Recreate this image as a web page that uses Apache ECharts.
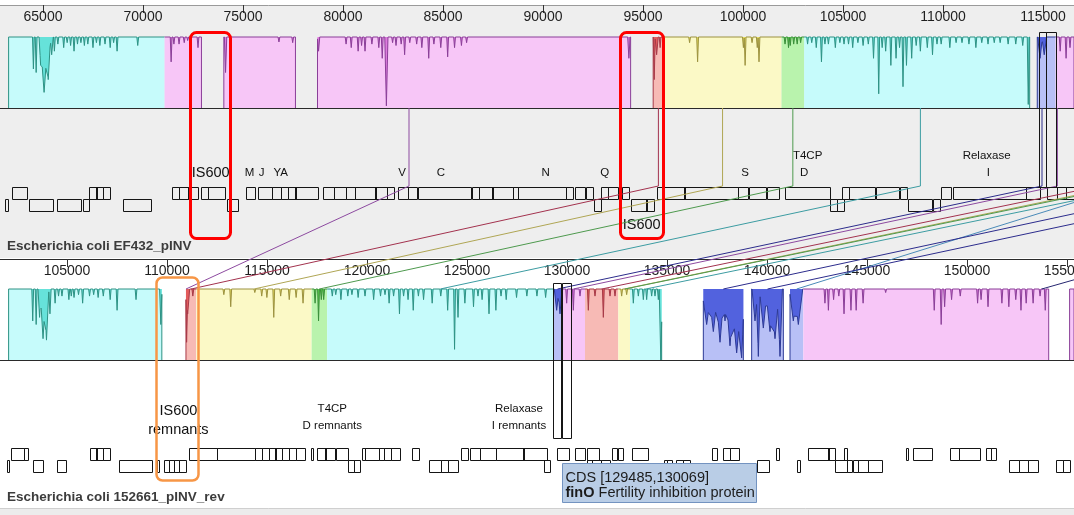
<!DOCTYPE html>
<html>
<head>
<meta charset="utf-8">
<title>pINV alignment</title>
<script src="https://cdn.jsdelivr.net/npm/echarts@6.0.0/dist/echarts.min.js"></script>
<style>
  html, body { margin: 0; padding: 0; background: #fff; }
  #main { width: 1074px; height: 515px; }
</style>
</head>
<body>
<div id="main"></div>
<script>
// ---------------- data ----------------
const topName = 'Escherichia coli EF432_pINV';
const bottomName = 'Escherichia coli 152661_pINV_rev';

// bp shown at the left / right edge of each panel
const topRange = [62850, 116550];
const bottomRange = [101650, 155350];

const topTicks = [65000, 70000, 75000, 80000, 85000, 90000, 95000, 100000, 105000, 110000, 115000];
const bottomTicks = [105000, 110000, 115000, 120000, 125000, 130000, 135000, 140000, 145000, 150000, 155000];

// similarity profile dips: [position, depth (0 top .. 1 baseline), half width]
const tCyan1 = [[64520,0.45],[64658,0.5],[64882,0.4,80],[65054,0.78,200],[65261,0.6,120],[65433,0.25,80],[65570,0.2],[65743,0.1],[66035,0.15],[66208,0.08],[66380,0.12],[66552,0.2],[66724,0.1],[66896,0.08],[67068,0.12],[67241,0.1],[67499,0.15],[67671,0.08],[67843,0.12],[68101,0.1],[68360,0.15],[68532,0.08],[68704,0.2],[69737,0.12]];
const tMag1 = [[71407,0.35],[71545,0.1],[71803,0.1],[72062,0.08],[72234,0.05],[72750,0.15]];
const tMag2 = [[74128,0.5,60],[76797,0.07],[77485,0.08]];
const tMag3 = [[78777,0.2,60],[80154,0.1],[80412,0.15],[80757,0.2],[80929,0.12],[81101,0.2],[81445,0.1],[81790,0.15],[81962,0.3],[82169,0.97,80],[82479,0.08],[82651,0.12],[82909,0.1],[83081,0.25],[83339,0.08],[83684,0.1],[83942,0.15],[84286,0.3],[84545,0.1],[84889,0.15],[85233,0.28],[85578,0.15],[85922,0.12],[86180,0.08],[94295,0.3,60]];
const tRed = [[95561,0.6,50],[95682,0.25,80],[95856,0.15]];
const tYellow = [[97330,0.08],[97730,0.35],[100020,0.15],[100106,0.4],[100453,0.08],[100714,0.15],[100800,0.35]];
const tGreen = [[102102,0.1],[102275,0.15],[102362,0.12],[102535,0.1],[102709,0.1],[102882,0.08]];
const tCyan2 = [[103229,0.1],[103437,0.08],[103663,0.15],[103923,0.35],[104097,0.1],[104270,0.1],[104617,0.15],[104843,0.08],[105051,0.1],[105276,0.1],[105485,0.15],[105745,0.08],[106005,0.12],[106265,0.1],[106526,0.3],[106786,0.8],[106959,0.15],[107133,0.2],[107393,0.4],[107653,0.3],[107827,0.15],[108000,0.7],[108174,0.4],[108434,0.3],[108660,0.12],[108868,0.2],[109215,0.15],[109475,0.25],[109700,0.1],[109909,0.1],[110342,0.15],[110655,0.08],[110950,0.08],[111297,0.1],[111644,0.15],[111939,0.08],[112251,0.1],[112563,0.08],[112858,0.08],[113257,0.1],[113639,0.1],[113986,0.12],[114263,0.95,50]];
const tBlue = [[114853,0.3,120],[115061,0.25,120]];
const tMag4 = [[115859,0.2],[116154,0.3],[116350,0.15]];

const bCyan1 = [[103286,0.45],[103458,0.5],[103630,0.4,80],[103802,0.7,150],[103974,0.72,120],[104147,0.35,60],[104405,0.2],[104577,0.1],[104749,0.1],[105094,0.15],[105214,0.1],[105352,0.12],[105576,0.08],[105782,0.2],[106127,0.1],[106333,0.08],[106557,0.12],[106815,0.1],[107160,0.15],[107504,0.3],[108451,0.15],[109691,0.5,60]];
const bRed1 = [[110980,0.75,40],[111034,0.35,100],[111292,0.1]];
const bYellow1 = [[112842,0.08],[113186,0.25],[114391,0.05],[114736,0.1],[114994,0.12],[115338,0.4],[115683,0.1],[116113,0.15],[116457,0.12],[116802,0.2]];
const bGreen = [[117404,0.2],[117577,0.45],[117715,0.15],[117835,0.15]];
const bCyan2 = [[118265,0.1],[118438,0.08],[118696,0.15],[119040,0.1],[119247,0.08],[119557,0.12],[119901,0.1],[120332,0.15],[120676,0.1],[120900,0.08],[121106,0.2],[121330,0.1],[121623,0.35],[121830,0.1],[122053,0.15],[122312,0.3],[122570,0.1],[122828,0.15],[123259,0.2],[123689,0.1],[124033,0.3],[124378,0.85],[124550,0.4],[124894,0.2],[125325,0.25],[125549,0.1],[125755,0.15],[126100,0.35],[126444,0.3],[126702,0.1],[126960,0.15],[127477,0.12],[127993,0.1],[128497,0.1],[128931,0.12]];
const bBlue0 = [[129483,0.3,120],[129650,0.35,100]];
const bMag0 = [[129983,0.2],[130317,0.3],[130650,0.1]];
const bRed2 = [[131067,0.3],[131400,0.1],[131817,0.4],[132150,0.1],[132400,0.1]];
const bYellow2 = [[132733,0.1],[132983,0.08]];
const bCyan3 = [[133317,0.2],[133567,0.1],[133817,0.15],[133983,0.15],[134233,0.1],[134400,0.1],[134567,0.15],[134690,1,80]];
const bBlue1 = [[136983,0.5,250],[137317,0.6,250],[137650,0.75,220],[137900,0.45,150],[138150,0.8,220],[138483,0.9,300],[138733,0.97,150]];
const bBlue2 = [[139400,0.45,150],[139567,0.95,90],[139817,0.55,200],[140150,0.6,220],[140400,0.7,220],[140650,0.95,120]];
const bBlue3 = [[141317,0.45,200],[141567,0.5,220]];
const bMag1 = [[142897,0.2],[143070,0.3],[143330,0.15],[143591,0.1],[143851,0.35],[144198,0.3],[144458,0.3],[144805,0.2],[145933,0.05],[148362,0.3],[148709,0.5],[148882,0.25],[149229,0.15],[149663,0.1],[150530,0.2],[150704,0.15],[151051,0.25],[151745,0.2],[152092,0.25],[152439,0.15],[152699,0.3],[152959,0.2],[153306,0.2],[153653,0.1],[153913,0.3]];
const bMag2 = [];

// collinear blocks: [colour, start, end, profile]
const topBlocks = [
  ['cyan', 63280, 71080, tCyan1], ['magenta', 71080, 72923, tMag1], ['magenta', 74042, 77623, tMag2],
  ['magenta', 78725, 94381, tMag3], ['red', 95509, 96029, tRed], ['yellow', 96029, 101928, tYellow],
  ['green', 101928, 103056, tGreen], ['cyan', 103056, 114333, tCyan2], ['blue', 114714, 115634, tBlue],
  ['magenta', 115634, 116550, tMag4]
];
const bottomBlocks = [
  ['cyan', 102080, 109742, bCyan1], ['red', 110948, 111464, bRed1], ['yellow', 111464, 117232, bYellow1],
  ['green', 117232, 118007, bGreen], ['cyan', 118007, 129317, bCyan2], ['blue', 129317, 129733, bBlue0],
  ['magenta', 129733, 130900, bMag0], ['red', 130900, 132567, bRed2], ['yellow', 132567, 133150, bYellow2],
  ['cyan', 133150, 134733, bCyan3], ['blue', 136817, 138817, bBlue1], ['blue', 139233, 140817, bBlue2],
  ['blue', 141150, 141817, bBlue3], ['magenta', 141817, 154085, bMag1], ['magenta', 155130, 155350, bMag2]
];

// genes: [start, end, strand]
const topGenes = [
  [63453,64227,1],[67292,67671,1],[67671,68015,1],[68015,68360,1],[71459,71803,1],[71803,72234,1],[72234,72750,1],
  [72923,73267,1],[73267,74128,1],[75161,75591,1],[75764,76452,1],[76452,76883,1],[76883,77227,1],[77227,77623,1],
  [77623,78777,1],[78983,79551,1],[79551,80154,1],[80154,80584,1],[80584,81618,1],[81618,82220,1],[82220,82565,1],
  [82737,83253,1],[83253,83684,1],[83770,86439,1],[86439,86783,1],[86783,87472,1],[87472,88505,1],[88505,88763,1],
  [88763,91172,1],[91172,91519,1],[91605,92126,1],[92126,92473,1],[92907,93254,1],[93254,93774,1],[93947,94295,1],
  [95682,97070,1],[97070,99759,1],[99759,100280,1],[100280,101147,1],[101199,101807,1],[102102,104357,1],
  [104964,105311,1],[105311,106612,1],[106664,107827,1],[107827,108174,1],[109909,110429,1],[110516,114159,1],
  [114159,114853,1],[115200,115720,1],[115720,116154,1],[116154,117660,1],
  [63108,63280,-1],[64314,65519,-1],[65691,66896,-1],[66982,67292,-1],[69014,70391,-1],[74214,74765,-1],
  [92560,92907,-1],[94381,95162,-1],[95162,95543,-1],[104357,104704,-1],[104704,105051,-1],[108261,109475,-1],[109475,109822,-1]
];
const bottomGenes = [
  [102201,102855,1],[102855,103062,1],[106127,106471,1],[106471,106815,1],[106815,107160,1],[111120,112497,1],
  [112497,114391,1],[114391,114736,1],[114736,115080,1],[115080,115424,1],[115424,115769,1],[115769,116113,1],
  [116113,116457,1],[116457,116888,1],[117198,117318,1],[117491,117921,1],[117921,118438,1],[118438,119040,1],
  [119729,119901,1],[119901,120590,1],[120590,120848,1],[120848,121192,1],[121192,121623,1],[122226,122570,1],
  [124722,125066,1],[125153,125669,1],[125669,126444,1],[126444,127821,1],[127821,129017,1],[129485,130069,1],
  [130404,130926,1],[131013,131620,1],[132227,132487,1],[132574,132834,1],[133268,134049,1],[137258,137518,1],
  [137779,138126,1],[138126,138559,1],[140468,140641,1],[142029,143070,1],[143070,143417,1],[143851,144024,1],
  [146974,147095,1],[147321,148275,1],[149142,149576,1],[149576,150617,1],[150964,151224,1],[151224,151484,1],
  [101994,102080,-1],[103286,103802,-1],[104491,104921,-1],[107590,109226,-1],[109484,109570,-1],[109829,110087,-1],
  [110087,110345,-1],[110345,110603,-1],[110603,110948,-1],[119040,119350,-1],[119350,119643,-1],[123087,123689,-1],
  [123689,124033,-1],[124033,124550,-1],[128844,129156,-1],[131013,131273,-1],[131273,131707,-1],[131707,132140,-1],
  [134829,135003,-1],[135003,135263,-1],[135437,135784,-1],[135784,136131,-1],[139514,140121,-1],[141509,141682,-1],
  [143417,144024,-1],[144024,144285,-1],[144285,144545,-1],[144545,145065,-1],[145065,145759,-1],[152092,152612,-1],
  [152612,153046,-1],[153046,153566,-1],[154433,154780,-1],[154780,155128,-1]
];

// gene annotations: [position, text, tier]
const topLabels = [
  [73387,'IS600','is'],[75333,'M','name'],[75935,'J','name'],[76882,'YA','name'],[82960,'V','name'],[84890,'C','name'],
  [90130,'N','name'],[93080,'Q','name'],[100105,'S','name'],[103230,'T4CP','role'],[103055,'D','name'],
  [112180,'Relaxase','role'],[112265,'I','name'],[94935,'IS600','isBelow']
];
const bottomLabels = [
  [110570,'IS600','is'],[110570,'remnants','isSub'],[118265,'T4CP','role'],[118265,'D remnants','name'],
  [127600,'Relaxase','role'],[127600,'I remnants','name']
];

// links between block centres: [top position, bottom position, colour]
const links = [
  [83300,110950,'purple'],[95770,111206,'maroon'],[98978,114348,'olive'],[102492,117620,'green'],
  [108870,123662,'teal'],[114950,129525,'navy'],[115720,130317,'purple'],[117850,131733,'maroon'],
  [118850,132858,'olive'],[119100,132900,'green'],[120100,133942,'teal'],[119200,141483,'steel'],
  [123000,137817,'navy'],[125400,140025,'navy'],[133000,153740,'ink']
];

// selected feature outlines and marked regions
const topHighlight = [[114801,115148],[115148,115634]];
const bottomHighlight = [[129317,129733],[129733,130183]];
const topNotes = [[72372,74386,'red'],[93861,95995,'red']];
const bottomNotes = [[109433,111550,'orange']];
const tipGene = { kind: 'CDS', start: 129485, end: 130069, name: 'finO', product: 'Fertility inhibition protein' };

// ---------------- style ----------------
const FONT = '"Liberation Sans", Arial, sans-serif';
const palette = {
  cyan:    { light: '#c6fbfb', mid: '#66e2da', line: '#2e9284' },
  magenta: { light: '#f7c6f7', mid: '#de7ade', line: '#8a3f98' },
  yellow:  { light: '#fbf9c6', mid: '#e8e05e', line: '#9c9240' },
  green:   { light: '#b9f3ad', mid: '#5ad04a', line: '#3b8f3b' },
  red:     { light: '#f7bab5', mid: '#e35c5c', line: '#a83a48' },
  blue:    { light: '#b8c0f6', mid: '#5262de', line: '#2d3a96' }
};
const linkColors = {
  purple: '#8d4aa0', maroon: '#a3324e', olive: '#b0a654', green: '#4e9a4e', teal: '#3c9ca2',
  navy: '#2c2c8c', steel: '#4a8ab8', ink: '#262670'
};
const noteColors = { red: '#ff0000', orange: '#f79646' };

// panel layouts in pixels from the panel's top edge
const topLay = {
  lcbTop: 32, base: 103, turn: 181, gene: 182, rowH: 12, hl: [27, 182], note: [27, 233],
  tiers: { name: [168, 11.5], role: [151, 11.5], is: [168, 14.5], isBelow: [220, 14.5] }
};
const botLay = {
  lcbTop: 30, base: 101, gene: 189, rowH: 11.5, hl: [24, 179], note: [18, 221], tip: 204,
  tiers: { is: [152, 14.5], isSub: [171, 14.5], role: [150, 11.5], name: [167, 11.5] }
};

// ---------------- series builders ----------------
function depthAt(dips, v) {
  let d = 0;
  for (const p of dips) {
    const w = p[2] || 45;
    const t = 1 - Math.abs(v - p[0]) / w;
    if (t > 0) d = Math.max(d, p[1] * t);
  }
  return d;
}

function blockSeries(id, blocks, g, lay) {
  return {
    id, type: 'custom', xAxisIndex: g, yAxisIndex: g, z: 2, silent: true,
    data: blocks.map((b, i) => [b[1], b[2], i]),
    encode: { x: [0, 1] },
    renderItem(params, api) {
      const i = api.value(2);
      const [key, s, e, dips] = blocks[i];
      const pal = palette[key];
      const yTop = api.coord([s, lay.lcbTop])[1];
      const yBase = api.coord([s, lay.base])[1];
      const px = v => api.coord([v, lay.lcbTop])[0];
      let xs = [s, e];
      dips.forEach(p => { const w = p[2] || 45; xs.push(p[0] - w, p[0], p[0] + w); });
      xs = xs.filter(v => v >= s && v <= e).sort((a, b) => a - b);
      const prof = xs.map(v => [px(v), yTop + depthAt(dips, v) * (yBase - yTop)]);
      const x0 = px(s), x1 = px(e);
      const line = prof.slice();
      if (!blocks.some(o => o !== blocks[i] && Math.abs(o[2] - s) < 80)) line.unshift([x0, yBase]);
      if (!blocks.some(o => o !== blocks[i] && Math.abs(o[1] - e) < 80)) line.push([x1, yBase]);
      return {
        type: 'group', children: [
          { type: 'rect', shape: { x: x0, y: yTop, width: x1 - x0, height: yBase - yTop }, style: { fill: pal.light } },
          { type: 'polygon', shape: { points: [[x0, yTop]].concat(prof, [[x1, yTop]]) }, style: { fill: pal.mid } },
          { type: 'polyline', shape: { points: line }, style: { fill: 'none', stroke: pal.line, lineWidth: 1 } }
        ]
      };
    }
  };
}

function trackSeries(id, range, g, lay) {
  return {
    id, type: 'custom', xAxisIndex: g, yAxisIndex: g, z: 3, silent: true,
    data: [[range[0], range[1]]],
    encode: { x: [0, 1] },
    renderItem(params, api) {
      const a = api.coord([api.value(0), lay.base]);
      const b = api.coord([api.value(1), lay.base]);
      const y = Math.round(a[1]) + 0.5;
      return { type: 'line', shape: { x1: a[0], y1: y, x2: b[0], y2: y }, style: { stroke: '#2a2a2a', lineWidth: 1.2 } };
    }
  };
}

function geneSeries(id, genes, g, lay) {
  return {
    id, type: 'custom', xAxisIndex: g, yAxisIndex: g, z: 4, silent: true,
    data: genes,
    encode: { x: [0, 1] },
    renderItem(params, api) {
      const y0 = api.value(2) > 0 ? lay.gene : lay.gene + lay.rowH;
      const p0 = api.coord([api.value(0), y0]);
      const p1 = api.coord([api.value(1), y0 + lay.rowH]);
      return {
        type: 'rect',
        shape: { x: Math.round(p0[0]) + 0.5, y: Math.round(p0[1]) + 0.5, width: Math.max(1, Math.round(p1[0] - p0[0])), height: Math.round(p1[1] - p0[1]) },
        style: { fill: 'none', stroke: '#151515', lineWidth: 1 }
      };
    }
  };
}

function labelSeries(id, labels, g, lay) {
  return {
    id, type: 'custom', xAxisIndex: g, yAxisIndex: g, z: 5, silent: true,
    data: labels.map((l, i) => [l[0], i]),
    encode: { x: 0 },
    renderItem(params, api) {
      const l = labels[api.value(1)];
      const t = lay.tiers[l[2]];
      const p = api.coord([l[0], t[0]]);
      return {
        type: 'text',
        style: { text: l[1], x: p[0], y: p[1], align: 'center', verticalAlign: 'middle', fill: '#111', fontSize: t[1], fontFamily: FONT }
      };
    }
  };
}

function boxSeries(id, boxes, g, span, z, styleOf) {
  return {
    id, type: 'custom', xAxisIndex: g, yAxisIndex: g, z, silent: true,
    data: boxes.map((b, i) => [b[0], b[1], i]),
    encode: { x: [0, 1] },
    renderItem(params, api) {
      const b = boxes[api.value(2)];
      const p0 = api.coord([b[0], span[0]]);
      const p1 = api.coord([b[1], span[1]]);
      const st = styleOf(b);
      return {
        type: 'rect',
        shape: { x: Math.round(p0[0]) + 0.5, y: Math.round(p0[1]) + 0.5, width: Math.round(p1[0] - p0[0]), height: Math.round(p1[1] - p0[1]), r: st.r || 0 },
        style: { fill: 'none', stroke: st.stroke, lineWidth: st.width }
      };
    }
  };
}

function tipSeries() {
  return {
    id: 'tip', type: 'custom', xAxisIndex: 1, yAxisIndex: 1, z: 20, silent: true,
    data: [[tipGene.start, tipGene.end]],
    encode: { x: [0, 1] },
    renderItem(params, api) {
      const p = api.coord([api.value(0), botLay.tip]);
      const x = Math.round(p[0]) + 5.5, y = Math.round(p[1]) + 0.5;
      return {
        type: 'group', children: [
          { type: 'rect', shape: { x, y, width: 194, height: 39 }, style: { fill: '#b9cde6', stroke: '#7393c0', lineWidth: 1 } },
          {
            type: 'text',
            style: {
              x: x + 3, y: y + 7,
              text: tipGene.kind + ' [' + tipGene.start + ',' + tipGene.end + ']\n{b|' + tipGene.name + '} ' + tipGene.product,
              fill: '#1c1c1c', fontSize: 14.5, fontFamily: FONT, lineHeight: 15,
              rich: { b: { fontWeight: 'bold', fontSize: 14.5, fontFamily: FONT, fill: '#1c1c1c', lineHeight: 15 } }
            }
          }
        ]
      };
    }
  };
}

function axisFor(g, range, ticks, lineColor) {
  return {
    gridIndex: g, type: 'value', position: 'top', min: range[0], max: range[1],
    axisLine: { show: true, lineStyle: { color: lineColor, width: 1 } },
    axisTick: { show: true, inside: true, length: 8, customValues: ticks, lineStyle: { color: '#333' } },
    axisLabel: { inside: true, margin: 5, customValues: ticks, fontSize: 14, color: '#1e1e1e', fontFamily: FONT, formatter: v => String(v) },
    splitLine: { show: false }
  };
}

// ---------------- chart ----------------
const chart = echarts.init(document.getElementById('main'), null, { renderer: 'canvas' });

chart.setOption({
  animation: false,
  backgroundColor: '#ffffff',
  title: [
    { text: topName, left: 7, top: 239, padding: 0, textStyle: { fontSize: 13.5, fontWeight: 'bold', color: '#3c3c3c', fontFamily: FONT } },
    { text: bottomName, left: 7, top: 490, padding: 0, textStyle: { fontSize: 13.5, fontWeight: 'bold', color: '#3c3c3c', fontFamily: FONT } }
  ],
  grid: [
    { left: 0, right: 0, top: 5, height: 253, show: true, backgroundColor: '#eeeeee', borderWidth: 0, containLabel: false, outerBoundsMode: 'none' },
    { left: 0, right: 0, top: 259, height: 249, show: true, backgroundColor: '#ffffff', borderWidth: 0, containLabel: false, outerBoundsMode: 'none' }
  ],
  xAxis: [axisFor(0, topRange, topTicks, '#9a9a9a'), axisFor(1, bottomRange, bottomTicks, '#2a2a2a')],
  yAxis: [
    { gridIndex: 0, type: 'value', min: 0, max: 253, inverse: true, show: false },
    { gridIndex: 1, type: 'value', min: 0, max: 249, inverse: true, show: false }
  ],
  graphic: [
    { type: 'rect', left: 0, top: 508, shape: { width: 1074, height: 7 }, style: { fill: '#ececec' }, silent: true },
    { type: 'line', shape: { x1: 0, y1: 508.5, x2: 1074, y2: 508.5 }, style: { stroke: '#cfcfcf', lineWidth: 1 }, silent: true }
  ],
  series: [
    blockSeries('topBlocks', topBlocks, 0, topLay),
    trackSeries('topTrack', topRange, 0, topLay),
    geneSeries('topGenes', topGenes, 0, topLay),
    labelSeries('topLabels', topLabels, 0, topLay),
    boxSeries('topHl', topHighlight, 0, topLay.hl, 6, () => ({ stroke: '#151515', width: 1 })),
    boxSeries('topNotes', topNotes, 0, topLay.note, 10, b => ({ stroke: noteColors[b[2]], width: 3, r: 6 })),
    blockSeries('bottomBlocks', bottomBlocks, 1, botLay),
    trackSeries('bottomTrack', bottomRange, 1, botLay),
    geneSeries('bottomGenes', bottomGenes, 1, botLay),
    labelSeries('bottomLabels', bottomLabels, 1, botLay),
    boxSeries('bottomHl', bottomHighlight, 1, botLay.hl, 6, () => ({ stroke: '#151515', width: 1 })),
    boxSeries('bottomNotes', bottomNotes, 1, botLay.note, 10, b => ({ stroke: noteColors[b[2]], width: 2.5, r: 6 })),
    tipSeries(),
    {
      id: 'links', type: 'custom', coordinateSystem: 'none', z: 5, silent: true,
      data: [],
      renderItem: () => null
    }
  ]
});

// link lines run from one panel's scale into the other's, so place them after layout
const linkPaths = links.map(l => [
  chart.convertToPixel({ xAxisIndex: 0, yAxisIndex: 0 }, [l[0], topLay.base]),
  chart.convertToPixel({ xAxisIndex: 0, yAxisIndex: 0 }, [l[0], topLay.turn]),
  chart.convertToPixel({ xAxisIndex: 1, yAxisIndex: 1 }, [l[1], botLay.lcbTop]),
  linkColors[l[2]]
]);

chart.setOption({
  series: [{
    id: 'links',
    data: linkPaths.map((p, i) => [i]),
    renderItem(params, api) {
      const p = linkPaths[api.value(0)];
      return { type: 'polyline', shape: { points: [p[0], p[1], p[2]] }, style: { fill: 'none', stroke: p[3], lineWidth: 1 } };
    }
  }]
});
</script>
</body>
</html>
